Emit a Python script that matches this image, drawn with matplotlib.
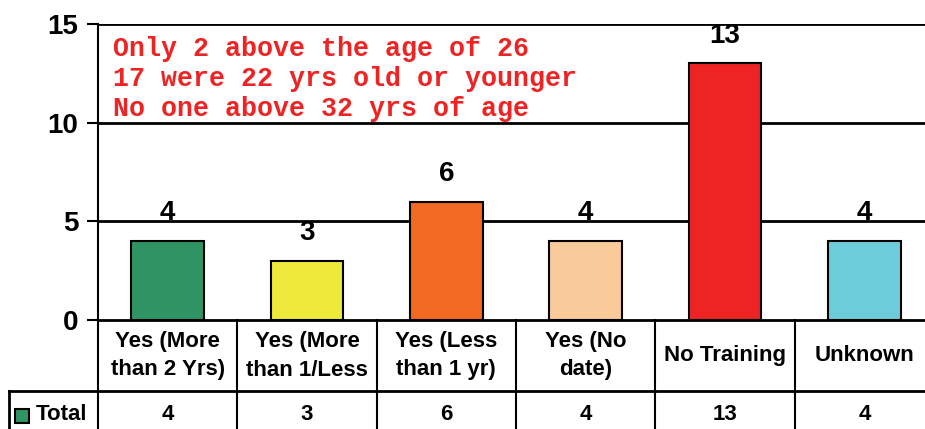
import matplotlib
matplotlib.use('Agg')
import matplotlib.pyplot as plt
from matplotlib.lines import Line2D
from matplotlib.patches import Rectangle
import matplotlib.transforms as mtransforms

categories = ['Yes (More\nthan 2 Yrs)', 'Yes (More\nthan 1/Less', 'Yes (Less\nthan 1 yr)',
              'Yes (No\ndate)', 'No Training', 'Unknown']
values = [4, 3, 6, 4, 13, 4]
colors = ['#2E9464', '#EEEA3C', '#F26A22', '#F9CA9A', '#EE2424', '#6CCCDA']
yticks = [0, 5, 10, 15]
series_name = 'Total'
note = 'Only 2 above the age of 26\n17 were 22 yrs old or younger\nNo one above 32 yrs of age'

plt.rcParams['font.family'] = ['Liberation Sans', 'DejaVu Sans']
plt.rcParams['font.weight'] = 'bold'

W, H = 925, 429
fig = plt.figure(figsize=(W / 100, H / 100), dpi=100)
ax = fig.add_axes([98 / W, 109 / H, 836 / W, 296 / H])

x = list(range(len(values)))
ax.bar(x, values, width=0.52, color=colors, edgecolor='black', linewidth=1.5, zorder=3)
ax.set_xlim(-0.5, len(values) - 0.5)
ax.set_ylim(0, 15)

for v in yticks[1:]:
	ax.axhline(v, color='black', linewidth=2, zorder=1)

for s in ['top', 'right']:
	ax.spines[s].set_visible(False)
ax.spines['left'].set_linewidth(1.5)
ax.spines['bottom'].set_linewidth(2)

ax.set_yticks(yticks)
ax.set_yticklabels([str(t) for t in yticks], fontsize=20, fontweight='bold')
ax.tick_params(axis='y', length=8, width=1.5, pad=6)
ax.set_xticks([])

for xi, v in zip(x, values):
	ax.annotate(str(v), (xi, v), xytext=(0, 15), textcoords='offset points',
				ha='center', va='baseline', fontsize=20, fontweight='bold')

ax.text(0.018, 0.958, note, transform=ax.transAxes, ha='left', va='top',
		family='Liberation Mono', fontsize=19.2, fontweight='bold', color='#EE2424',
		linespacing=1.18)

# data table under the axis
trans = mtransforms.blended_transform_factory(ax.transData, ax.transAxes)
row1 = -71 / 296
for k in range(len(values) + 1):
	ax.add_line(Line2D([k - 0.5, k - 0.5], [0, -0.45], transform=trans, color='black',
					   linewidth=1.5, clip_on=False))
for xi, (cat, v) in enumerate(zip(categories, values)):
	ax.text(xi, row1 / 2, cat, transform=trans, ha='center', va='center',
			fontsize=16, fontweight='bold', linespacing=1.5, clip_on=False)
	ax.text(xi, -95 / 296, str(v), transform=trans, ha='center', va='center',
			fontsize=16, fontweight='bold', clip_on=False)

fig.add_artist(Line2D([9 / W, 1], [1 - 391 / H, 1 - 391 / H], transform=fig.transFigure,
					  color='black', linewidth=2))
fig.add_artist(Line2D([9 / W, 9 / W], [0, 1 - 391 / H], transform=fig.transFigure,
					  color='black', linewidth=2))
fig.add_artist(Rectangle((15 / W, 1 - 423 / H), 14 / W, 14 / H, transform=fig.transFigure,
						 facecolor=colors[0], edgecolor='black', linewidth=1.5))
fig.text(36 / W, 1 - 415 / H, series_name, ha='left', va='center', fontsize=16,
		 fontweight='bold')

fig.savefig('out.png', dpi=100)
